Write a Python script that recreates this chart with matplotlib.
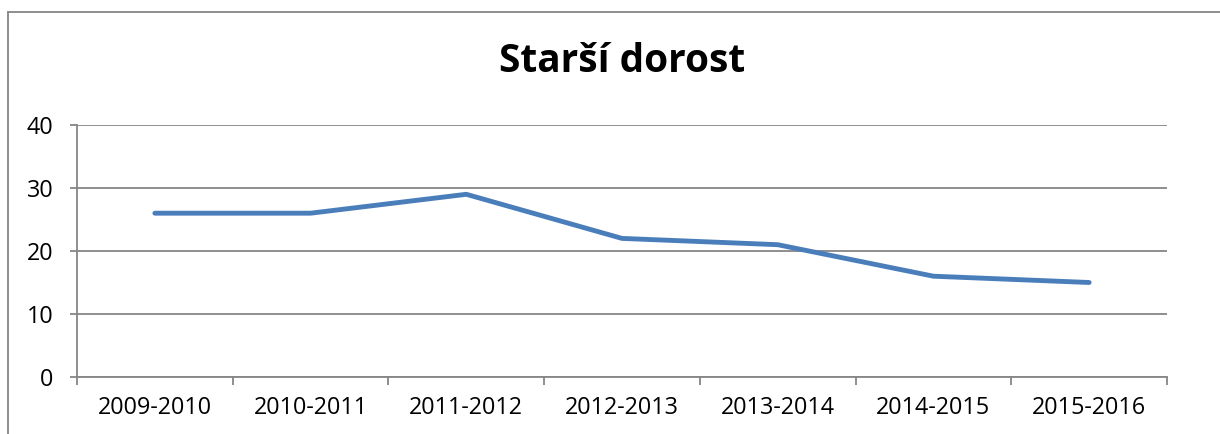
import matplotlib
matplotlib.use("Agg")
import matplotlib.pyplot as plt
from matplotlib.lines import Line2D

seasons = ["2009-2010", "2010-2011", "2011-2012", "2012-2013", "2013-2014", "2014-2015", "2015-2016"]
values = [26, 26, 29, 22, 21, 16, 15]
y_ticks = [0, 10, 20, 30, 40]
title = "Starší dorost"

W, H = 1220, 434
DPI = 100
plt.rcParams['font.family'] = ['Open Sans', 'DejaVu Sans']

fig = plt.figure(figsize=(W / DPI, H / DPI), dpi=DPI)
grid_col = "#868686"

# outer chart border (left & top visible)
fig.add_artist(Line2D([8 / W, 8 / W], [0, 1 - 12 / H], transform=fig.transFigure, color=grid_col, lw=1.3))
fig.add_artist(Line2D([8 / W, 1], [1 - 12 / H, 1 - 12 / H], transform=fig.transFigure, color=grid_col, lw=1.3))

left, right, top, bottom = 77, 1167, 125, 377
ax = fig.add_axes([left / W, 1 - bottom / H, (right - left) / W, (bottom - top) / H])

x = list(range(len(seasons)))
ax.plot(x, values, color="#4A7EBB", lw=3.5, solid_capstyle="round", solid_joinstyle="round", zorder=3)

ax.set_xlim(-0.5, len(seasons) - 0.5)
ax.set_ylim(0, 40)
ax.set_yticks(y_ticks)
ax.set_yticklabels([str(v) for v in y_ticks])
ax.yaxis.grid(True, color=grid_col, lw=1.3)
ax.set_axisbelow(True)

ax.set_xticks(x)
ax.set_xticklabels(seasons)
ax.set_xticks([i - 0.5 for i in range(len(seasons) + 1)], minor=True)
ax.tick_params(axis="x", which="major", length=0, pad=14, labelsize=16.8)
ax.tick_params(axis="x", which="minor", length=6, width=1.3, color=grid_col, direction="out")
ax.tick_params(axis="y", length=5, width=1.3, color=grid_col, pad=12, labelsize=16.8)

for s in ["top", "right"]:
    ax.spines[s].set_visible(False)
for s in ["left", "bottom"]:
    ax.spines[s].set_color(grid_col)
    ax.spines[s].set_linewidth(1.3)

fig.text((left + right) / 2 / W, 1 - 62 / H, title, ha="center", va="center",
         fontsize=28, fontweight="bold")

fig.savefig("out.png", dpi=DPI)
